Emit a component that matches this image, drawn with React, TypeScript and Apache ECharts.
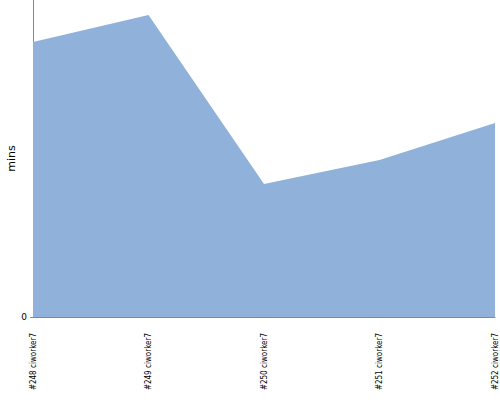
import React, { useEffect, useRef } from "react";
import * as echarts from "echarts";

const categories = ["#248 ciworker7", "#249 ciworker7", "#250 ciworker7", "#251 ciworker7", "#252 ciworker7"];
const durations = [10.41, 11.43, 5.03, 5.94, 7.34];
const yTicks = [0];

export default function App() {
  const ref = useRef<HTMLDivElement>(null);
  useEffect(() => {
    const chart = echarts.init(ref.current!, null, { renderer: "svg" });
    chart.setOption({
      animation: false,
      grid: { left: 33, right: 5, top: 0, bottom: 83, containLabel: false, outerBoundsMode: "none" },
      xAxis: {
        type: "category",
        data: categories,
        boundaryGap: false,
        axisLine: { lineStyle: { color: "#888", width: 1 } },
        axisTick: { show: false },
        axisLabel: {
          rotate: 90,
          margin: 16,
          fontSize: 8,
          color: "#000",
          fontFamily: "DejaVu Sans Condensed",
          interval: 0,
        },
      },
      yAxis: {
        type: "value",
        min: 0,
        max: 12,
        interval: 100,
        name: "mins",
        nameLocation: "middle",
        nameGap: 16,
        nameMoveOverlap: false,
        nameTextStyle: { fontSize: 11, color: "#000", fontFamily: "DejaVu Sans" },
        axisLine: { show: true, lineStyle: { color: "#888", width: 1 } },
        axisTick: { show: true, length: 3, lineStyle: { color: "#888" } },
        splitLine: { show: false },
        axisLabel: {
          fontSize: 9,
          color: "#000",
          margin: 6,
          fontFamily: "DejaVu Sans",
          showMaxLabel: false,
          formatter: (v: number) => (yTicks.includes(v) ? String(v) : ""),
        },
      },
      series: [
        {
          type: "line",
          data: durations,
          symbol: "none",
          lineStyle: { width: 0 },
          areaStyle: { color: "#8fb1da", opacity: 1 },
        },
      ],
    });
    return () => chart.dispose();
  }, []);
  return <div ref={ref} style={{ width: 500, height: 400, position: "absolute", left: 0, top: 0 }} />;
}
